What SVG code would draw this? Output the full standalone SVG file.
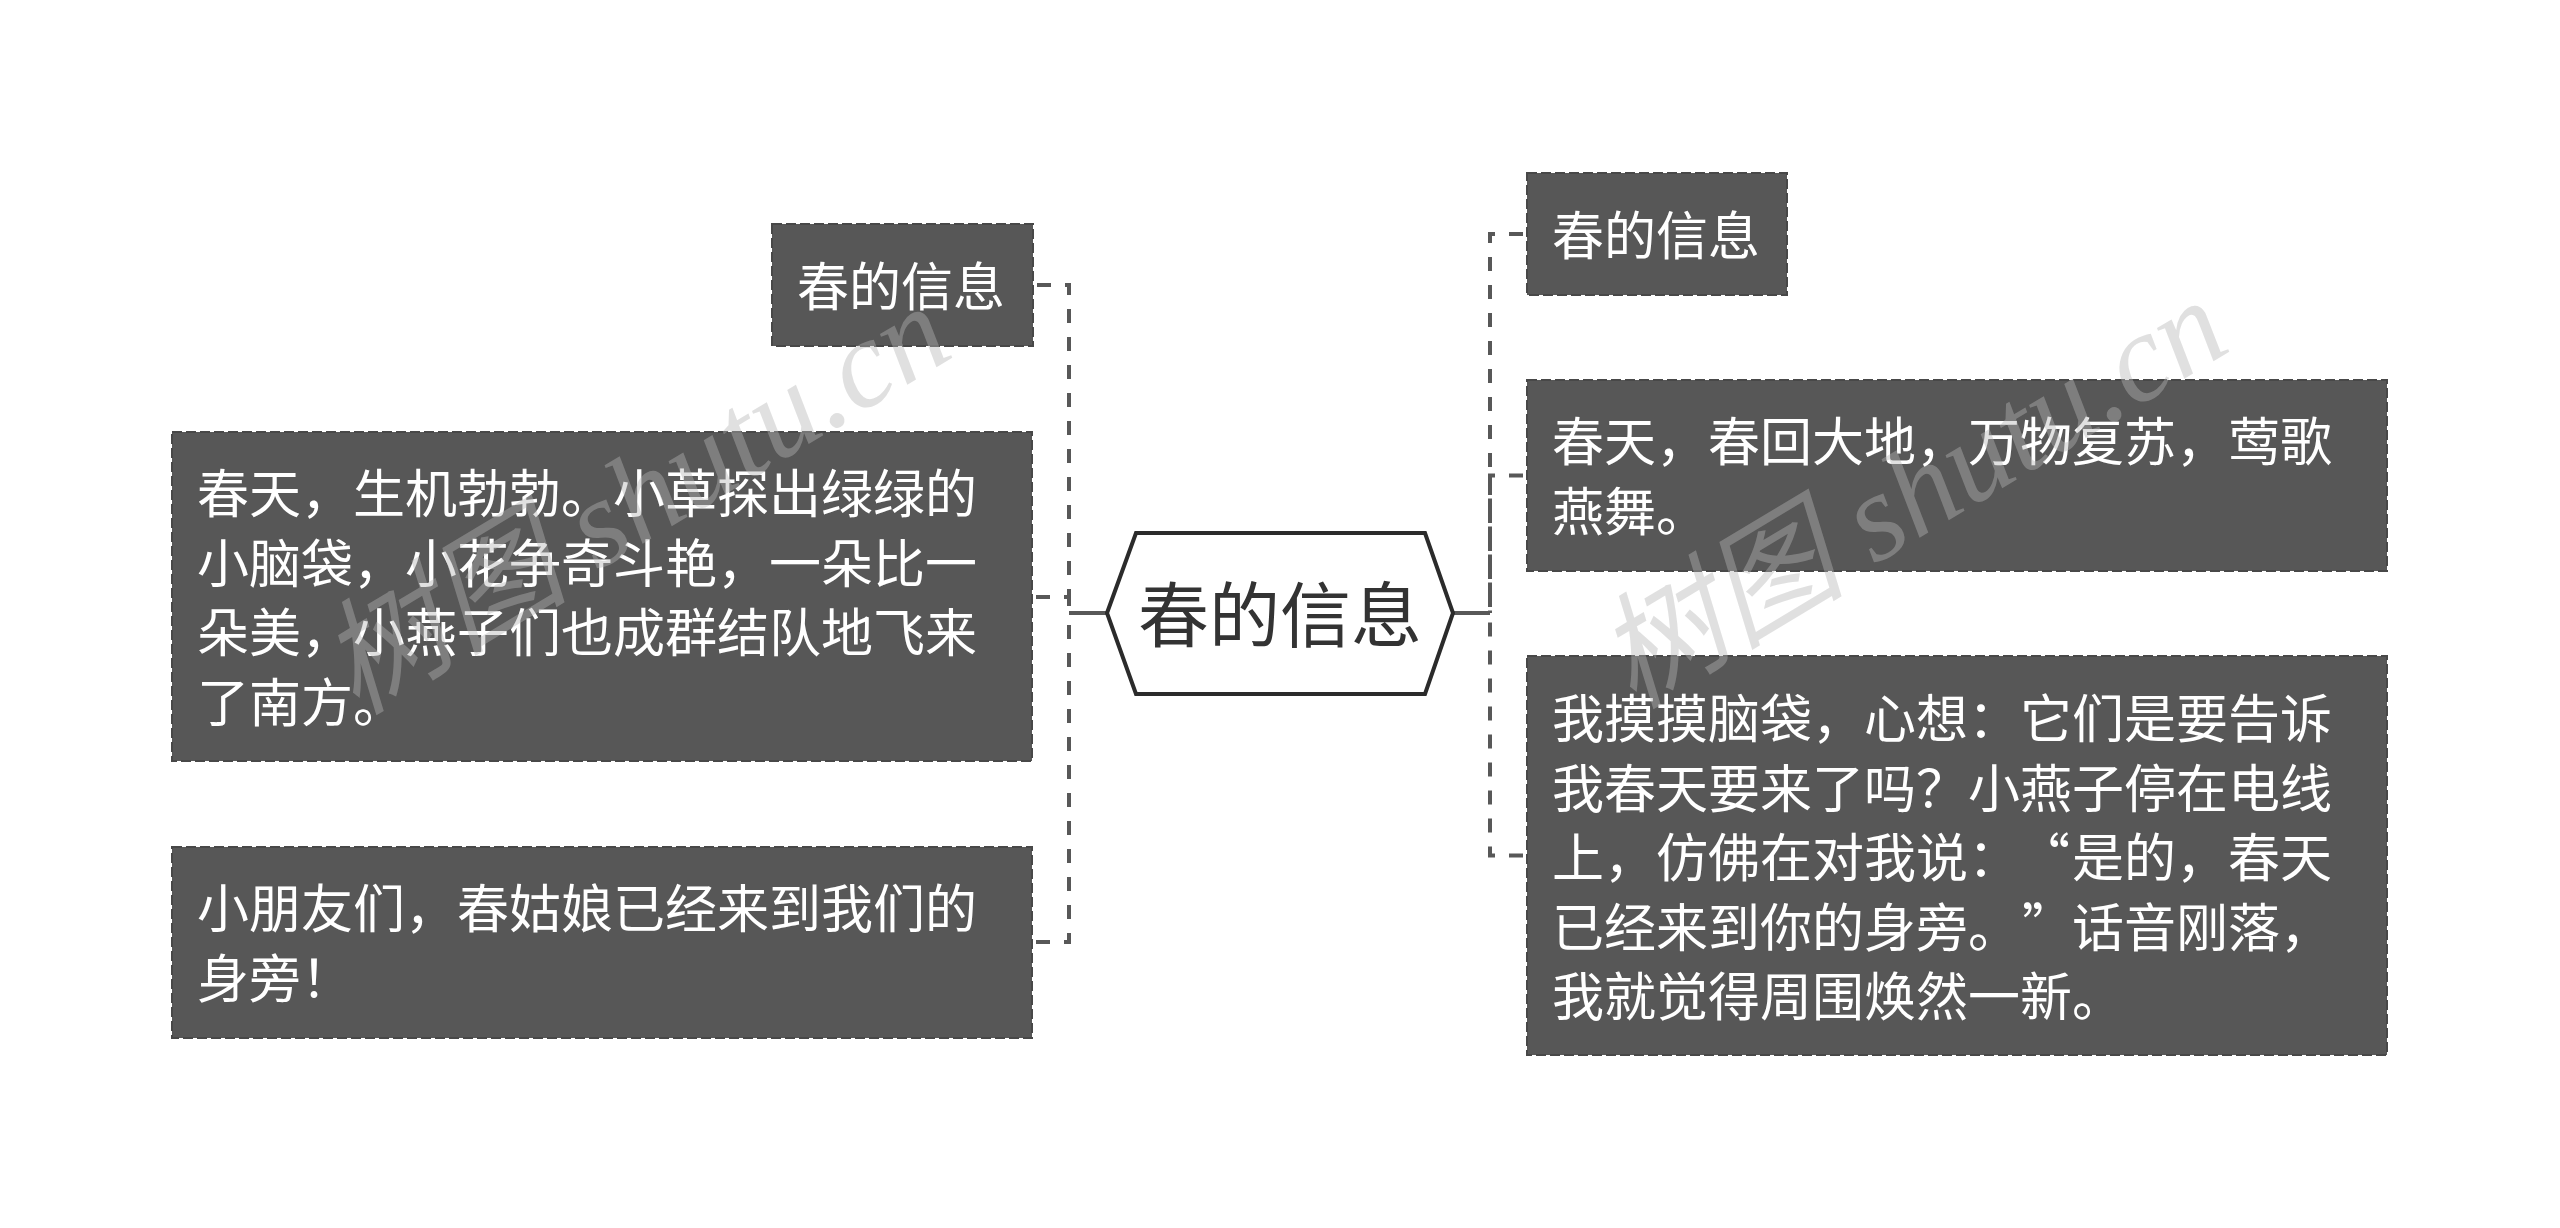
<svg xmlns="http://www.w3.org/2000/svg" width="2560" height="1228" viewBox="0 0 2560 1228">
<style>
.node rect{fill:#575757;stroke:#484848;stroke-width:2;stroke-dasharray:10 4}
.node text{fill:#ffffff;font-family:"Noto Sans CJK SC","Noto Sans",sans-serif;font-size:52px}
.conn{fill:none;stroke:#585858;stroke-width:4;stroke-dasharray:14 14;stroke-dashoffset:24}
.stub{fill:none;stroke:#585858;stroke-width:4}
.wm{fill:#b4b4b4;fill-opacity:0.42;font-family:"Liberation Serif","Noto Sans CJK SC",serif;font-style:italic;font-size:125px}
</style>
<rect width="2560" height="1228" fill="#ffffff"/>
<g id="connectors">
<path class="conn" d="M1033,285 H1069 V613"/>
<path class="conn" d="M1032,597 H1069 V613"/>
<path class="conn" d="M1032,942 H1069 V613"/>
<path class="conn" d="M1527,234 H1490 V613"/>
<path class="conn" d="M1527,475.5 H1490 V613"/>
<path class="conn" d="M1527,855.5 H1490 V613"/>
<path class="stub" d="M1069,613 H1107"/>
<path class="stub" d="M1453,613 H1490"/>
</g>
<g id="center">
<polygon points="1107,613 1136,533 1425,533 1453,613 1425,694 1136,694" fill="#ffffff" stroke="#2b2b2b" stroke-width="4"/>
<text x="1280" y="641" text-anchor="middle" font-family="Noto Sans CJK SC, Noto Sans, sans-serif" font-size="71" fill="#333333">春的信息</text>
</g>
<g id="left1" class="node">
<rect x="772" y="224" width="261" height="122"/>
<text x="797" y="306">春的信息</text>
</g>
<g id="left2" class="node">
<rect x="172" y="432" width="860" height="329"/>
<text x="197" y="513">春天，生机勃勃。小草探出绿绿的</text>
<text x="197" y="582.5">小脑袋，小花争奇斗艳，一朵比一</text>
<text x="197" y="652">朵美，小燕子们也成群结队地飞来</text>
<text x="197" y="721.5">了南方。</text>
</g>
<g id="left3" class="node">
<rect x="172" y="847" width="860" height="191"/>
<text x="197" y="928">小朋友们，春姑娘已经来到我们的</text>
<text x="197" y="998">身旁！</text>
</g>
<g id="right1" class="node">
<rect x="1527" y="173" width="260" height="122"/>
<text x="1552" y="255">春的信息</text>
</g>
<g id="right2" class="node">
<rect x="1527" y="380" width="860" height="191"/>
<text x="1552" y="461">春天，春回大地，万物复苏，莺歌</text>
<text x="1552" y="531">燕舞。</text>
</g>
<g id="right3" class="node">
<rect x="1527" y="656" width="860" height="399"/>
<text x="1552" y="738">我摸摸脑袋，心想：它们是要告诉</text>
<text x="1552" y="807.5">我春天要来了吗？小燕子停在电线</text>
<text x="1552" y="877">上，仿佛在对我说：</text>
<text x="2070" y="877" text-anchor="end">“</text>
<text x="2072" y="877">是的，春天</text>
<text x="1552" y="946.5">已经来到你的身旁。</text>
<text x="2022" y="946.5">”</text>
<text x="2072" y="946.5">话音刚落，</text>
<text x="1552" y="1016">我就觉得周围焕然一新。</text>
</g>
<g id="watermarks">
<text class="wm" transform="translate(356,716) rotate(-31)">树图 shutu.cn</text>
<text class="wm" transform="translate(1633,710) rotate(-31)">树图 shutu.cn</text>
</g>
</svg>
